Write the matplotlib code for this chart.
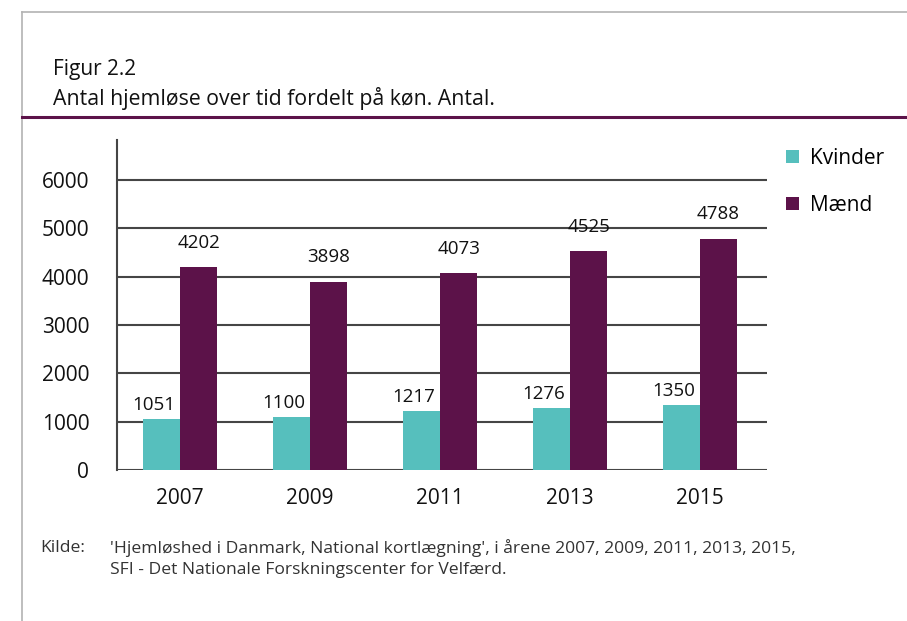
import matplotlib
matplotlib.use("Agg")
import matplotlib.pyplot as plt
import numpy as np
from matplotlib.lines import Line2D

# data
years = ["2007", "2009", "2011", "2013", "2015"]
kvinder = [1051, 1100, 1217, 1276, 1350]
maend = [4202, 3898, 4073, 4525, 4788]
yticks = [0, 1000, 2000, 3000, 4000, 5000, 6000]

teal = "#56bfbd"
purple = "#5c1249"
grid = "#454545"

plt.rcParams["font.family"] = ["Open Sans", "DejaVu Sans"]

fig = plt.figure(figsize=(9.07, 6.21), dpi=100)
ax = fig.add_axes([117 / 907, 1 - 470 / 621, 650 / 907, 330 / 621])

x = np.arange(len(years))
w = 0.285
ax.bar(x - w / 2, kvinder, w, color=teal, label="Kvinder", zorder=3)
ax.bar(x + w / 2, maend, w, color=purple, label="Mænd", zorder=3)

for xi, v in zip(x, kvinder):
    ax.annotate(str(v), (xi - w / 2, v), xytext=(-5.5, 10), textcoords="offset points",
                ha="center", va="center", fontsize=13.5, color="#111111")
for xi, v in zip(x, maend):
    ax.annotate(str(v), (xi + w / 2, v), xytext=(0, 17.5), textcoords="offset points",
                ha="center", va="center", fontsize=13.5, color="#111111")

ax.set_xlim(-0.485, len(years) - 0.485)
ax.set_ylim(0, 6828)
ax.set_yticks(yticks)
ax.set_yticklabels([str(t) for t in yticks], fontsize=15, color="#111111")
ax.set_xticks(x)
ax.set_xticklabels(years, fontsize=15, color="#111111")
ax.tick_params(axis="both", length=0)
ax.tick_params(axis="x", pad=13)
ax.tick_params(axis="y", pad=20)
for t in yticks:
    ax.axhline(t, color=grid, lw=1.5, zorder=1)
for s in ["top", "right", "bottom"]:
    ax.spines[s].set_visible(False)
ax.spines["left"].set_color(grid)
ax.spines["left"].set_linewidth(1.5)

ax.legend(loc="upper left", bbox_to_anchor=(786 / 907, 1 - 148 / 621),
          bbox_transform=fig.transFigure, frameon=False, fontsize=15,
          handlelength=0.62, handleheight=0.62, handletextpad=0.55,
          labelspacing=1.25, borderpad=0, borderaxespad=0)

# frame lines of the page
fig.add_artist(Line2D([22 / 907, 1], [1 - 12 / 621] * 2, color="#b3b3b3", lw=1.2))
fig.add_artist(Line2D([22 / 907] * 2, [0, 1 - 12 / 621], color="#b3b3b3", lw=1.2))
fig.add_artist(Line2D([22 / 907, 1], [1 - 117 / 621] * 2, color=purple, lw=2.2))

fig.text(53 / 907, 1 - 69 / 621, "Figur 2.2", fontsize=15, va="center", color="#111111")
fig.text(53 / 907, 1 - 98 / 621, "Antal hjemløse over tid fordelt på køn. Antal.",
         fontsize=15.3, va="center", color="#111111")

foot_size = 12.6
fig.text(40 / 907, 1 - 548 / 621, "Kilde:", fontsize=foot_size, va="center",
         color="#333333")
fig.text(110 / 907, 1 - 548 / 621,
         "'Hjemløshed i Danmark, National kortlægning', i årene 2007, 2009, 2011, 2013, 2015,",
         fontsize=foot_size, va="center", color="#333333")
fig.text(110 / 907, 1 - 570 / 621, "SFI - Det Nationale Forskningscenter for Velfærd.",
         fontsize=foot_size, va="center", color="#333333")

fig.savefig("out.png", dpi=100)
